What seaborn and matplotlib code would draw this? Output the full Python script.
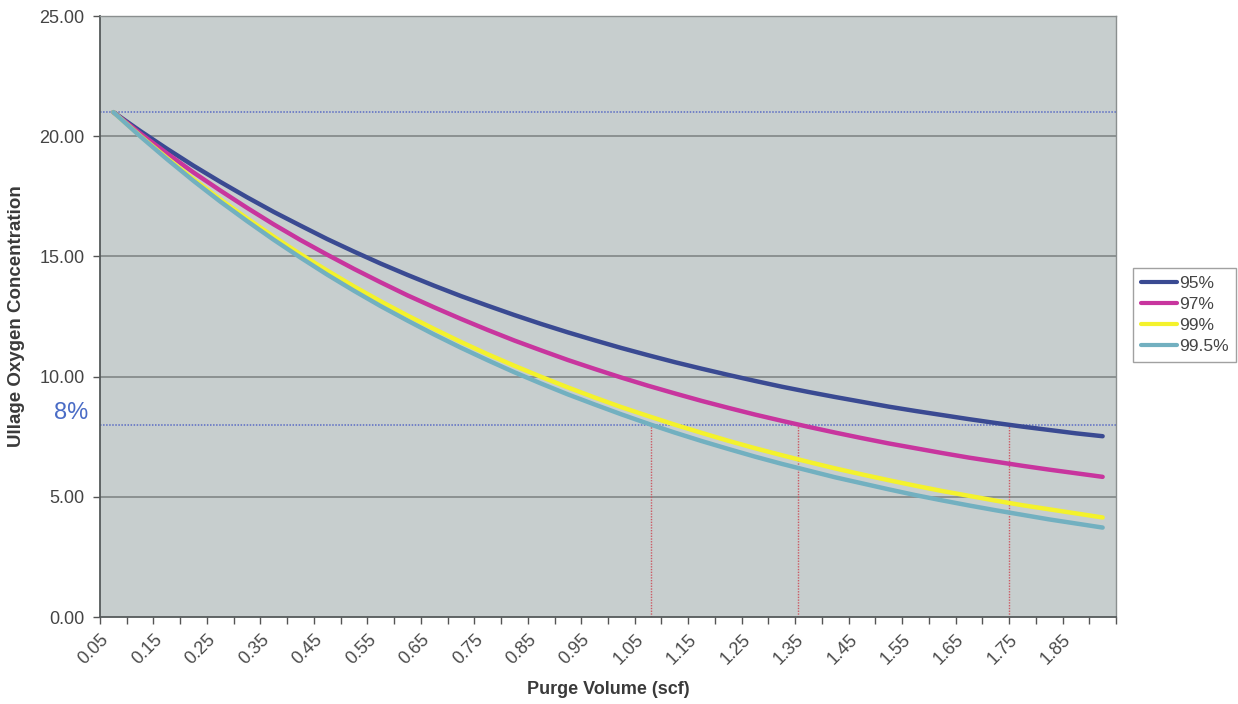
import matplotlib
matplotlib.use("Agg")
import matplotlib.pyplot as plt
import matplotlib.transforms as mtransforms
import seaborn as sns
import pandas as pd
import numpy as np

# ---- data ----
purge_volume = [0.075, 0.125, 0.175, 0.225, 0.275, 0.325, 0.375, 0.425, 0.475, 0.525,
                0.575, 0.625, 0.675, 0.725, 0.775, 0.825, 0.875, 0.925, 0.975, 1.025,
                1.075, 1.125, 1.175, 1.225, 1.275, 1.325, 1.375, 1.425, 1.475, 1.525,
                1.575, 1.625, 1.675, 1.725, 1.775, 1.825, 1.875, 1.925]

o2_95 = [21.00, 20.22, 19.48, 18.77, 18.10, 17.46, 16.85, 16.28, 15.72, 15.20,
         14.70, 14.23, 13.78, 13.35, 12.95, 12.56, 12.19, 11.84, 11.51, 11.19,
         10.89, 10.60, 10.33, 10.07, 9.82, 9.58, 9.36, 9.15, 8.95, 8.75,
         8.57, 8.40, 8.23, 8.07, 7.92, 7.78, 7.64, 7.52]
o2_97 = [21.00, 20.12, 19.29, 18.49, 17.74, 17.02, 16.33, 15.68, 15.07, 14.48,
         13.92, 13.38, 12.88, 12.40, 11.94, 11.50, 11.09, 10.69, 10.32, 9.96,
         9.62, 9.30, 8.99, 8.70, 8.42, 8.16, 7.91, 7.67, 7.44, 7.22,
         7.02, 6.82, 6.63, 6.46, 6.29, 6.13, 5.98, 5.83]
o2_99 = [21.00, 20.02, 19.10, 18.21, 17.37, 16.58, 15.82, 15.09, 14.41, 13.75,
         13.13, 12.54, 11.98, 11.44, 10.93, 10.45, 9.99, 9.55, 9.13, 8.73,
         8.36, 8.00, 7.66, 7.33, 7.02, 6.73, 6.45, 6.18, 5.93, 5.69,
         5.46, 5.24, 5.04, 4.84, 4.65, 4.48, 4.31, 4.14]
o2_995 = [21.00, 20.00, 19.05, 18.14, 17.28, 16.47, 15.69, 14.95, 14.24, 13.57,
          12.93, 12.33, 11.75, 11.20, 10.68, 10.18, 9.71, 9.26, 8.84, 8.43,
          8.04, 7.67, 7.32, 6.99, 6.67, 6.37, 6.09, 5.81, 5.56, 5.31,
          5.07, 4.85, 4.64, 4.44, 4.25, 4.06, 3.89, 3.72]

series_names = ["95%", "97%", "99%", "99.5%"]
series_colors = ["#3a4a92", "#c8359e", "#f4f22c", "#72b0c0"]

x_tick_values = [0.05, 0.15, 0.25, 0.35, 0.45, 0.55, 0.65, 0.75, 0.85, 0.95,
                 1.05, 1.15, 1.25, 1.35, 1.45, 1.55, 1.65, 1.75, 1.85]
x_tick_labels = ["0.05", "0.15", "0.25", "0.35", "0.45", "0.55", "0.65", "0.75", "0.85", "0.95",
                 "1.05", "1.15", "1.25", "1.35", "1.45", "1.55", "1.65", "1.75", "1.85"]
y_tick_values = [0, 5, 10, 15, 20, 25]
y_tick_labels = ["0.00", "5.00", "10.00", "15.00", "20.00", "25.00"]

ref_levels = [21, 8]
crossing_volumes = [1.08, 1.355, 1.75]
target_level = 8

# ---- build long table ----
frames = []
for name, vals in zip(series_names, [o2_95, o2_97, o2_99, o2_995]):
    frames.append(pd.DataFrame({"Purge Volume (scf)": purge_volume,
                                "O2": vals, "series": name}))
df = pd.concat(frames, ignore_index=True)

plt.rcParams["font.family"] = ["Liberation Sans", "DejaVu Sans"]

fig = plt.figure(figsize=(12.38, 7.04), dpi=100)
fig.patch.set_facecolor("white")
ax = fig.add_axes([100 / 1238, 1 - 617 / 704, 1016 / 1238, (617 - 16) / 704])
ax.set_facecolor("#c7cece")

# grid lines (horizontal)
for yv in y_tick_values[1:-1]:
    ax.axhline(yv, color="#7b8081", lw=1.1, zorder=1)

# reference dotted blue lines
for lv in ref_levels:
    ax.axhline(lv, color="#5a6cc4", lw=1.1, ls=(0, (1, 1)), zorder=2)

# red vertical dotted lines
ax.vlines(crossing_volumes, 0, target_level, colors="#cc5a64", lw=1.0,
          linestyles=(0, (1, 1)), zorder=2)

sns.lineplot(data=df, x="Purge Volume (scf)", y="O2", hue="series",
             hue_order=series_names, palette=series_colors, linewidth=3.2,
             ax=ax, legend=True, zorder=3, solid_capstyle="round")

ax.set_xlim(0.05, 1.95)
ax.set_ylim(0, 25)

ax.set_xticks(x_tick_values)
ax.set_xticklabels(x_tick_labels, rotation=45, ha="right", rotation_mode="anchor",
                   fontsize=13, color="#4a4a4a")
ax.set_xticks(np.round(np.arange(0.05, 1.951, 0.05), 2), minor=True)
ax.set_yticks(y_tick_values)
ax.set_yticklabels(y_tick_labels, fontsize=13, color="#444444")
ax.tick_params(axis="both", which="both", direction="out", length=5,
               color="#555555", width=1)
ax.tick_params(axis="x", which="major", pad=5)
ax.tick_params(axis="y", which="major", pad=6)

for side in ["left", "bottom"]:
    ax.spines[side].set_color("#555a5b")
    ax.spines[side].set_linewidth(1.3)
for side in ["top", "right"]:
    ax.spines[side].set_color("#8a8f8f")
    ax.spines[side].set_linewidth(1.0)

ax.set_xlabel("Purge Volume (scf)", fontsize=13, fontweight="bold",
              color="#3a3a3a")
ax.xaxis.set_label_coords(0.5, -0.106)
ax.set_ylabel("Ullage Oxygen Concentration", fontsize=13.5, fontweight="bold",
              color="#3a3a3a")
ax.yaxis.set_label_coords(-0.074, 0.5)

# 8% annotation
trans = mtransforms.blended_transform_factory(ax.transAxes, ax.transData)
ax.text(-0.012, 8.5, "8%", transform=trans, ha="right", va="center",
        fontsize=17, color="#4a6cc6")

# legend
handles, labels = ax.get_legend_handles_labels()
for h in handles:
    h.set_linewidth(3)
leg = ax.legend(handles, labels, loc="center left",
                bbox_to_anchor=(1133 / 1238, 1 - 315 / 704),
                bbox_transform=fig.transFigure, frameon=True, fancybox=False,
                fontsize=12.5, handlelength=2.1, handletextpad=0.1,
                borderpad=0.45, labelspacing=0.35, borderaxespad=0)
leg.get_frame().set_edgecolor("#8a8a8a")
leg.get_frame().set_linewidth(1.0)
for t in leg.get_texts():
    t.set_color("#444444")

fig.savefig("out.png", dpi=100)
